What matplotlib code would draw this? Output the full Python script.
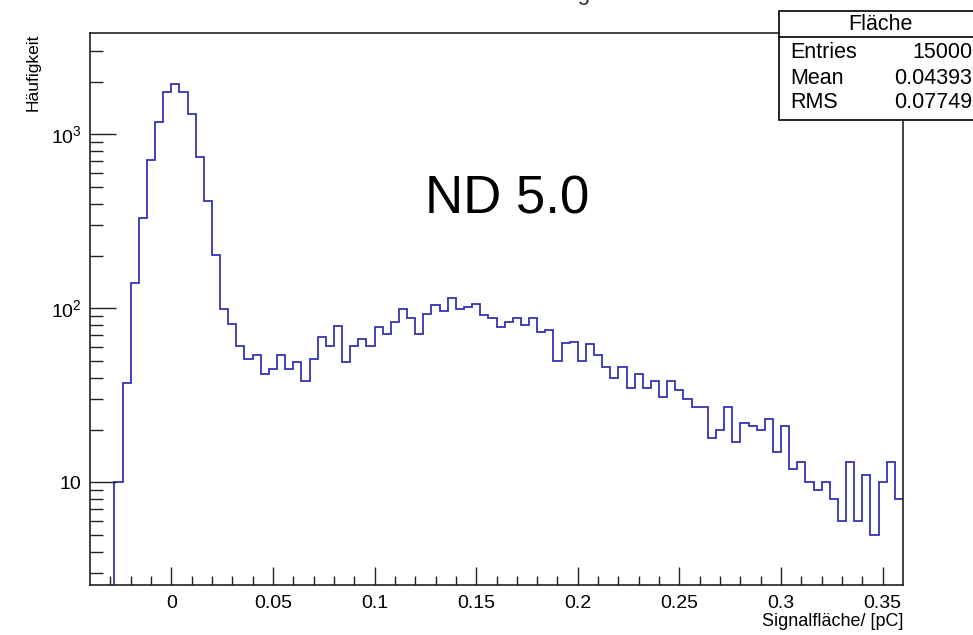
import numpy as np
import matplotlib
matplotlib.use('Agg')
import matplotlib.pyplot as plt
from matplotlib.patches import Rectangle
from matplotlib.ticker import FixedLocator, NullFormatter

plt.rcParams['font.family'] = ['Liberation Sans', 'DejaVu Sans']
plt.rcParams['mathtext.fontset'] = 'custom'
plt.rcParams['mathtext.rm'] = 'Liberation Sans'
plt.rcParams['mathtext.it'] = 'Liberation Sans:italic'

# histogramm: 100 bins von -0.04 bis 0.36 pC
x_min = -0.04
x_max = 0.36
n_bins = 100
counts = [0, 0, 0, 10, 37, 139, 330, 716, 1183, 1745,
          1955, 1745, 1303, 743, 411, 203, 99, 81, 61, 51,
          54, 42, 45, 54, 45, 49, 38, 51, 68, 61,
          79, 49, 61, 67, 61, 78, 71, 83, 99, 88,
          71, 93, 104, 97, 114, 99, 102, 106, 91, 88,
          78, 83, 88, 80, 88, 73, 75, 50, 63, 64,
          50, 62, 54, 46, 40, 46, 35, 42, 35, 38,
          31, 38, 34, 30, 27, 27, 18, 20, 27, 17,
          22, 21, 20, 23, 15, 21, 12, 13, 10, 9,
          10, 8, 6, 13, 6, 11, 5, 10, 13, 8]

x_ticks = [0, 0.05, 0.1, 0.15, 0.2, 0.25, 0.3, 0.35]
x_tick_labels = ['0', '0.05', '0.1', '0.15', '0.2', '0.25', '0.3', '0.35']
y_ticks = [10, 100, 1000]
y_tick_labels = ['10', r'$10^2$', r'$10^3$']

stat_names = ['Entries', 'Mean', 'RMS']
stat_values = ['15000', '0.04393', '0.07749']

W, H = 973, 635
fig = plt.figure(figsize=(W / 100, H / 100), dpi=100)
ax = fig.add_axes([90 / W, 1 - 585 / H, 813 / W, 552 / H])

edges = np.linspace(x_min, x_max, n_bins + 1)
vals = np.array(counts, dtype=float)
vals[vals <= 0] = 0.01  # leere bins unter den rand zeichnen
ax.stairs(vals, edges, baseline=None, color='#3434b4', linewidth=1.3)

ax.set_yscale('log')
ax.set_xlim(x_min, x_max)
ax.set_ylim(2.57, 3820)

ax.xaxis.set_major_locator(FixedLocator(x_ticks))
ax.set_xticklabels(x_tick_labels)
ax.xaxis.set_minor_locator(FixedLocator(np.arange(-0.03, 0.36, 0.01)))
ax.yaxis.set_major_locator(FixedLocator(y_ticks))
ax.set_yticklabels(y_tick_labels)
minor_y = [m * d for d in [1, 10, 100, 1000] for m in range(2, 10)]
ax.yaxis.set_minor_locator(FixedLocator(minor_y))
ax.yaxis.set_minor_formatter(NullFormatter())

ax.tick_params(axis='both', which='both', direction='in', color='#222222', width=1.0,
               labelsize=14, top=False, right=False)
ax.tick_params(axis='x', which='major', length=13, pad=7)
ax.tick_params(axis='x', which='minor', length=6.5)
ax.tick_params(axis='y', which='major', length=19, pad=6)
ax.tick_params(axis='y', which='minor', length=9)
for s in ax.spines.values():
    s.set_linewidth(1.2)
    s.set_color('#222222')

# achsentitel
fig.text(33 / W, 1 - 34 / H, 'Häufigkeit', rotation=90, ha='center', va='top', fontsize=12.5)
fig.text(903 / W, 1 - 622 / H, 'Signalfläche/ [pC]', ha='right', va='center', fontsize=13)

# titel ist oben abgeschnitten
fig.text(502 / W, 1.0, 'Flächenverteilung', ha='center', va='baseline', fontsize=16, color='#333333')

ax.text(507 / W, 1 - 200 / H, 'ND 5.0', transform=fig.transFigure, ha='center', va='center',
        fontsize=38)

# statistik box
box = Rectangle((779 / W, 1 - 120 / H), 220 / W, 109 / H, transform=fig.transFigure,
                facecolor='white', edgecolor='black', linewidth=1.2, zorder=5)
fig.add_artist(box)
fig.add_artist(plt.Line2D([779 / W, 1], [1 - 37 / H, 1 - 37 / H], transform=fig.transFigure,
                          color='black', linewidth=1.2, zorder=6))
fig.text(880 / W, 1 - 24 / H, 'Fläche', ha='center', va='center', fontsize=15.5, zorder=7)
for i in range(len(stat_names)):
    y = 1 - (53 + 25 * i) / H
    fig.text(790 / W, y, stat_names[i], ha='left', va='center', fontsize=15.5, zorder=7)
    fig.text(972 / W, y, stat_values[i], ha='right', va='center', fontsize=15.5, zorder=7)

fig.savefig('out.png', dpi=100)
